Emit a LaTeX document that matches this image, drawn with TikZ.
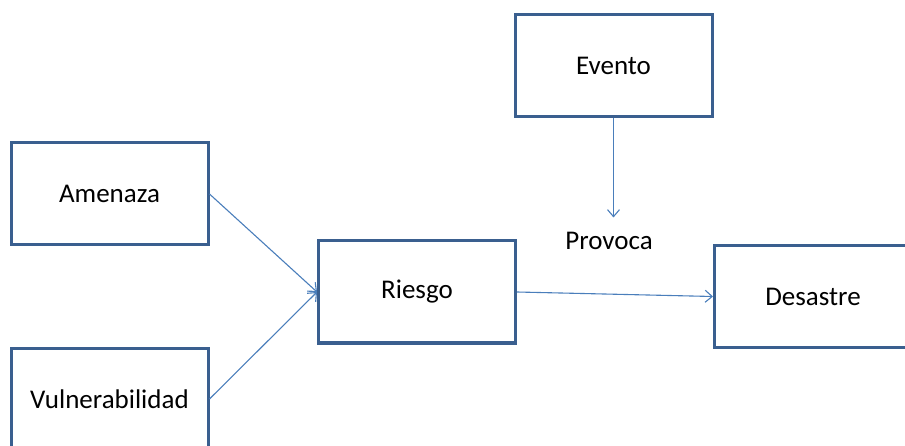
\documentclass[tikz,border=0pt]{standalone}
\usepackage{fontspec}
\setmainfont{Carlito}
\usepackage{xcolor}
\usetikzlibrary{positioning,arrows.meta}

\definecolor{boxblue}{HTML}{3A5F8F}
\definecolor{linkblue}{HTML}{4A7EBB}

\tikzset{
    caja/.style={draw=boxblue, line width=3pt, minimum width=197pt, minimum height=102pt, inner sep=0pt, font=\fontsize{27}{31}\selectfont},
    etiqueta/.style={font=\fontsize{27}{31}\selectfont},
    flecha/.style={draw=linkblue, line width=1.1pt, -{Straight Barb[length=7pt,width=12pt]}}
}

\begin{document}
\begin{tikzpicture}[x=1pt, y=-1pt]
    \useasboundingbox (0,0) rectangle (905,446);

    \node[caja] (amenaza) at (109.5,194) {Amenaza};
    \node[caja] (vulner) at (109.5,399) {Vulnerabilidad};
    \node[caja] (riesgo) at (417,292) {Riesgo};
    \node[caja] (evento) at (613.5,65.5) {Evento};
    \node[caja] (desastre) at (813,296.5) {Desastre};
    \node[etiqueta, anchor=base, inner sep=15pt] (provoca) at (609,250) {Provoca};

    \draw[flecha] (amenaza.east) -- (riesgo.west);
    \draw[flecha] (vulner.east) -- (riesgo.west);
    \draw[flecha] (riesgo.east) -- (desastre.west);
    \draw[flecha] (evento.south) -- (evento.south |- provoca.north);
\end{tikzpicture}
\end{document}
